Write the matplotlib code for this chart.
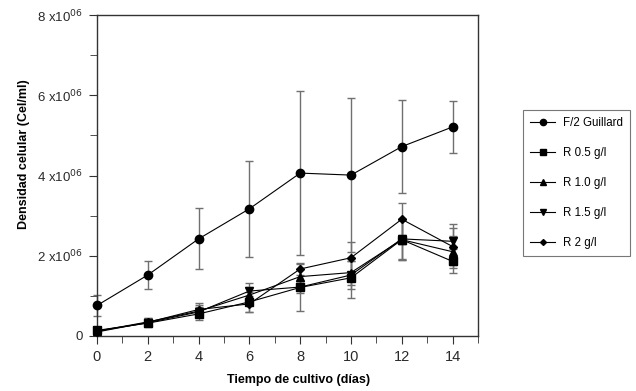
import numpy as np
import matplotlib
matplotlib.use('Agg')
import matplotlib.pyplot as plt
from matplotlib.ticker import MultipleLocator, FixedLocator

plt.rcParams['font.family'] = ['Liberation Sans', 'DejaVu Sans']

# Data (cells/ml, in millions)
dias = [0, 2, 4, 6, 8, 10, 12, 14]

f2 = [0.76, 1.52, 2.42, 3.17, 4.06, 4.01, 4.72, 5.21]
f2_err = [0.25, 0.34, 0.76, 1.20, 2.05, 1.92, 1.16, 0.65]

r05 = [0.14, 0.32, 0.55, 0.85, 1.21, 1.45, 2.40, 1.86]
r05_err = [0.06, 0.08, 0.15, 0.25, 0.58, 0.50, 0.50, 0.30]

r10 = [0.12, 0.35, 0.62, 1.02, 1.48, 1.58, 2.40, 2.10]
r10_err = [0.05, 0.10, 0.15, 0.20, 0.20, 0.30, 0.50, 0.40]

r15 = [0.12, 0.33, 0.60, 1.12, 1.22, 1.52, 2.42, 2.36]
r15_err = [0.05, 0.10, 0.12, 0.20, 0.15, 0.35, 0.50, 0.42]

r2 = [0.10, 0.34, 0.66, 0.80, 1.67, 1.95, 2.91, 2.23]
r2_err = [0.05, 0.10, 0.15, 0.20, 0.15, 0.40, 0.40, 0.45]

series = [
    ('F/2 Guillard', f2, f2_err, 'o', 6),
    ('R 0.5 g/l', r05, r05_err, 's', 5.5),
    ('R 1.0 g/l', r10, r10_err, '^', 5.5),
    ('R 1.5 g/l', r15, r15_err, 'v', 5.5),
    ('R 2 g/l', r2, r2_err, 'D', 4),
]

fig = plt.figure(figsize=(6.36, 3.91), dpi=100)
ax = fig.add_axes([0.1525, 0.1407, 0.599, 0.8209])

for name, vals, err, mk, ms in series:
    y = np.array(vals) * 1e6
    e = np.array(err) * 1e6
    ax.errorbar(dias, y, yerr=e, fmt='none', ecolor='#707070', elinewidth=1.0,
                capsize=3, capthick=1.0, clip_on=False, zorder=2)
    ax.plot(dias, y, color='black', lw=0.8, marker=mk, ms=ms, mfc='black',
            mec='black', label=name, clip_on=False, zorder=3)

ax.set_xlim(0, 15)
ax.set_ylim(0, 8e6)
ax.xaxis.set_major_locator(FixedLocator(dias))
ax.xaxis.set_minor_locator(MultipleLocator(1))
ax.yaxis.set_minor_locator(MultipleLocator(1e6))
ax.set_yticks([0, 2e6, 4e6, 6e6, 8e6])
ax.set_yticklabels(['0', r'2 x10$^{06}$', r'4 x10$^{06}$', r'6 x10$^{06}$', r'8 x10$^{06}$'])

ax.tick_params(axis='both', which='both', direction='out', color='#333333',
               labelcolor='#2a2a2a')
ax.tick_params(axis='x', labelsize=10.5)
ax.tick_params(axis='y', labelsize=9.5)
ax.tick_params(axis='both', which='major', length=6, pad=4)
ax.tick_params(axis='both', which='minor', length=5)

for s in ax.spines.values():
    s.set_color('#333333')
    s.set_linewidth(1.0)

ax.set_xlabel('Tiempo de cultivo (días)', fontweight='bold', fontsize=9)
ax.set_ylabel('Densidad celular (Cel/ml)', fontweight='bold', fontsize=9)
ax.xaxis.set_label_coords(0.53, -0.118)
ax.yaxis.set_label_coords(-0.176, 0.567)

leg = ax.legend(loc='upper left', bbox_to_anchor=(523 / 636, 1 - 110 / 391),
                bbox_transform=fig.transFigure, frameon=True,
                fancybox=False, edgecolor='#555555', fontsize=8.3,
                handlelength=2.1, labelspacing=1.55, borderpad=0.65,
                handletextpad=0.7, borderaxespad=0, markerscale=0.75)
leg.get_frame().set_linewidth(0.8)

fig.savefig('out.png', dpi=100)
